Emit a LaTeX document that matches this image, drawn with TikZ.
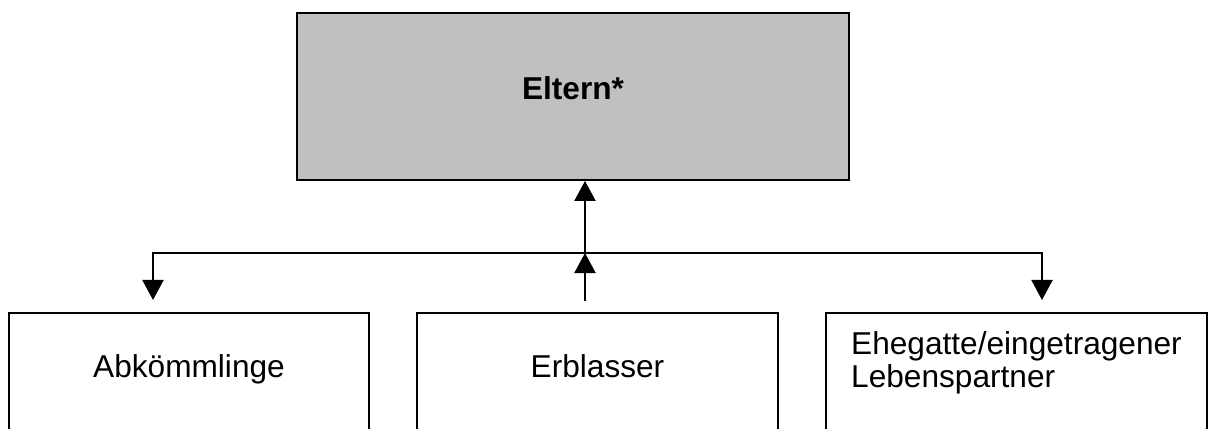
\documentclass[tikz,border=0pt]{standalone}
\usepackage{fontspec}
\setmainfont{Liberation Sans}
\usetikzlibrary{arrows.meta}
\definecolor{silvergrey}{RGB}{192, 192, 192}

\tikzset{
  famBox/.style={draw=black, line width=1.1pt, inner sep=0pt,
                 font=\fontsize{18}{18.6}\selectfont, text height=13pt, text depth=14.2pt},
  famLink/.style={line width=1.1pt, -{Triangle[width=12pt, length=11.4pt]}}
}

\begin{document}
\begin{tikzpicture}[x=0.02cm, y=-0.02cm]
  \useasboundingbox (0,0) rectangle (1208,429);
  % parents on top
  \node[famBox, fill=silvergrey, minimum width=11.04cm, minimum height=3.34cm, text depth=9.7pt,
        font=\fontsize{18}{18.6}\selectfont\bfseries] (eltern) at (573, 96.5) {Eltern*};
  % bottom row
  \node[famBox, minimum width=7.20cm, minimum height=2.64cm] (kinder)  at ( 189.0, 379) {Abkömmlinge};
  \node[famBox, minimum width=7.22cm, minimum height=2.64cm] (erblass) at ( 597.5, 379) {Erblasser};
  \node[famBox, minimum width=7.62cm, minimum height=2.64cm, align=left,
        text height=31.6pt, text depth=22.2pt] (partner) at (1016.5, 379) {Ehegatte/eingetragener\\Lebenspartner};
  % connectors
  \coordinate (hub)   at ( 585, 253);
  \coordinate (foot)  at ( 585, 301);
  \coordinate (dropL) at ( 153, 300);
  \coordinate (dropR) at (1042, 300);
  \draw[famLink] (foot) -- (hub);
  \draw[famLink] (hub) -- (hub |- eltern.south);
  \draw[famLink] (hub) -| (dropL);
  \draw[famLink] (hub) -| (dropR);
\end{tikzpicture}
\end{document}
